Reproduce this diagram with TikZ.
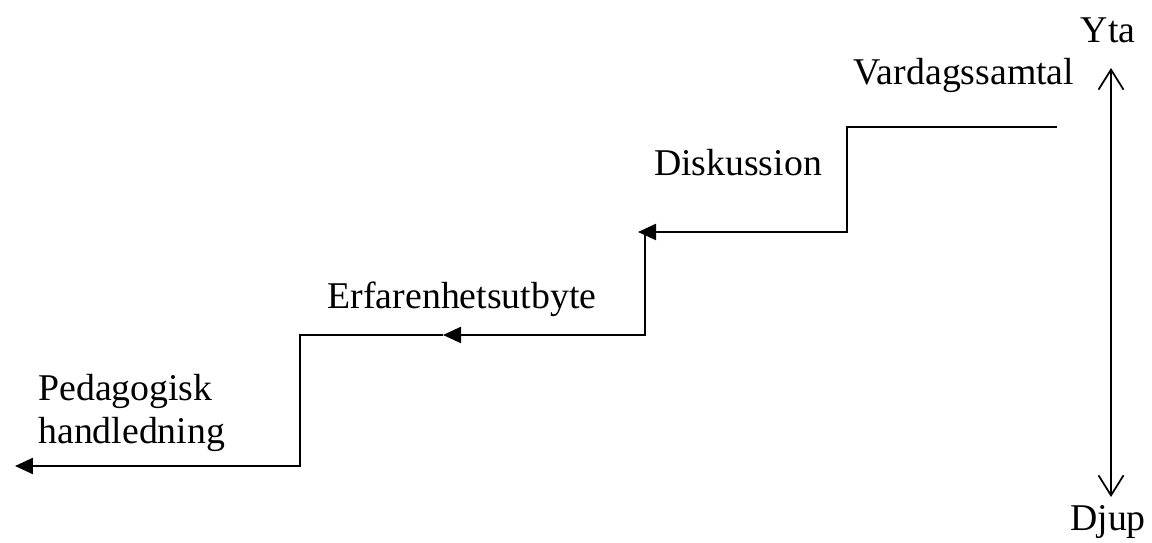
\documentclass[tikz,border=0pt]{standalone}
\usepackage{fontspec}
\setmainfont{Liberation Serif}
\usetikzlibrary{arrows.meta}
\begin{document}
\begin{tikzpicture}[x=0.02cm, y=-0.02cm, font=\fontsize{21.5}{24.4}\selectfont, line join=miter, >={Triangle[length=0.36cm,width=0.32cm]}]
            \useasboundingbox (0,0) rectangle (1152,543);
            % stairs
            \coordinate (s0) at (1057,127);
            \coordinate (c1) at (847,127);
            \coordinate (s1) at (638,232);
            \coordinate (t1) at (645,232);
            \coordinate (s2) at (443,335);
            \coordinate (c3) at (300,335);
            \coordinate (s3) at (15,466);
            \draw[line width=1.3pt,->] (s0) -- (c1) |- (s1);
            \draw[line width=1.3pt,->] (t1) |- (s2);
            \draw[line width=1.3pt,->] (s2) -- (c3) |- (s3);
            % labels
            \node[anchor=base] (vardag) at (964,85) {Vardagssamtal};
            \node[anchor=base] (disk) at (738,176) {Diskussion};
            \node[anchor=base] (erf) at (462,309) {Erfarenhetsutbyte};
            \node[anchor=base west, align=left, inner sep=0pt] (ped) at (38,443) {Pedagogisk\\handledning};
            % depth axis
            \node[anchor=base] (yta) at (1108,43) {Yta};
            \node[anchor=base] (djup) at (1108,530) {Djup};
            \coordinate (top) at (1111,68);
            \coordinate (bot) at (1111,497);
            \draw[line width=1pt,{Straight Barb[length=0.4cm,width=0.5cm]}-{Straight Barb[length=0.4cm,width=0.5cm]}] (top) -- (bot);
\end{tikzpicture}
\end{document}
